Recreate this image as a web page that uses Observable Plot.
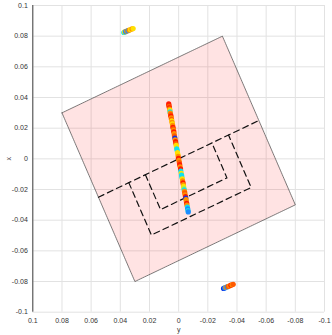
<!DOCTYPE html>
<html><head><meta charset="utf-8">
<script src="https://cdn.jsdelivr.net/npm/d3@7"></script>
<script src="https://cdn.jsdelivr.net/npm/@observablehq/plot@0.6"></script>
<style>body{margin:0;background:#fff}</style>
</head><body><div id="chart"></div>
<script>
// Axis ticks
const tickValues = [-0.1,-0.08,-0.06,-0.04,-0.02,0,0.02,0.04,0.06,0.08,0.1];

// Pink square region (h = "y" horizontal, v = "x" vertical)
const squareH = [0.08, -0.03, -0.08, 0.03, 0.08];
const squareV = [0.03, 0.08, -0.03, -0.08, 0.03];

// Long dashed line (midpoints of two square edges)
const midLineH = [0.055, -0.055];
const midLineV = [-0.025, 0.025];

// Outer U bracket
const outerUH = [0.0342, 0.0187, -0.0497, -0.0342];
const outerUV = [-0.0155, -0.0497, -0.0187, 0.0155];

// Inner U bracket
const innerUH = [0.0228, 0.0124, -0.0331, -0.0228];
const innerUV = [-0.0104, -0.0331, -0.0124, 0.0104];

// Main line of scatter points
const lineV = [0.0358,0.0350,0.0342,0.0333,0.0324,0.0316,0.0306,0.0298,0.0288,0.0278,0.0268,0.0258,0.0248,0.0238,0.0228,0.0218,0.0206,0.0196,0.0186,0.0176,0.0164,0.0150,0.0136,0.0124,0.0112,0.0100,0.0088,0.0078,0.0066,0.0054,0.0040,0.0028,0.0016,0.0004,-0.0010,-0.0024,-0.0038,-0.0052,-0.0066,-0.0080,-0.0094,-0.0106,-0.0118,-0.0130,-0.0144,-0.0156,-0.0168,-0.0180,-0.0192,-0.0202,-0.0212,-0.0222,-0.0234,-0.0246,-0.0256,-0.0266,-0.0278,-0.0290,-0.0302,-0.0314,-0.0326,-0.0338,-0.0346];
const lineH = [0.0068,0.0067,0.0066,0.0063,0.0062,0.0060,0.0059,0.0057,0.0055,0.0053,0.0051,0.0049,0.0047,0.0045,0.0043,0.0041,0.0039,0.0037,0.0035,0.0033,0.0031,0.0029,0.0026,0.0024,0.0021,0.0019,0.0017,0.0015,0.0013,0.0010,0.0008,0.0005,0.0003,0.0001,-0.0002,-0.0005,-0.0007,-0.0010,-0.0013,-0.0015,-0.0018,-0.0020,-0.0022,-0.0025,-0.0027,-0.0030,-0.0032,-0.0034,-0.0036,-0.0038,-0.0040,-0.0042,-0.0044,-0.0047,-0.0049,-0.0051,-0.0053,-0.0055,-0.0057,-0.0060,-0.0062,-0.0064,-0.0066];
const lineC = ["red","red","dorange","red","orange","yellow","cyan","orange","dorange","red","orange","dorange","yellow","orange","yellow","orange","red","dorange","orange","red","orange","dorange","blue","orange","red","dorange","yellow","yellow","cyan","cyan","yellow","yellow","orange","red","orange","dorange","red","orange","red","cyan","yellow","cyan","cyan","yellow","orange","red","orange","yellow","lime","cyan","orange","dorange","orange","red","blue","orange","orange","red","orange","cyan","lblue","cyan","lblue"];

// Top cluster
const topH = [0.0376,0.0370,0.0364,0.0356,0.0348,0.0340,0.0330,0.0320,0.0312];
const topV = [0.0824,0.0828,0.0829,0.0833,0.0836,0.0839,0.0843,0.0847,0.0850];
const topC = ["cyan","yellow","lblue","orange","lblue","orange","yellow","orange","yellow"];

// Bottom cluster
const botH = [-0.0308,-0.0316,-0.0324,-0.0332,-0.0340,-0.0350,-0.0358,-0.0366,-0.0374];
const botV = [-0.0845,-0.0842,-0.0838,-0.0835,-0.0832,-0.0828,-0.0824,-0.0821,-0.0818];
const botC = ["blue","lblue","orange","lblue","dorange","orange","red","orange","dorange"];

const palette = {blue:"#1030e0", lblue:"#1a8cff", cyan:"#10e0f0", lime:"#b0f040", yellow:"#ffe000", orange:"#ff9000", dorange:"#ff5a00", red:"#ff1a00"};

const zip = (H, V, C) => H.map((h, i) => ({h, v: V[i], c: C ? palette[C[i]] : null}));
const square = zip(squareH, squareV);
const midLine = zip(midLineH, midLineV);
const outerU = zip(outerUH, outerUV);
const innerU = zip(innerUH, innerUV);
const pts = [...zip(lineH, lineV, lineC), ...zip(topH, topV, topC), ...zip(botH, botV, botC)];

const fmt = d => d === 0 ? "0" : String(+d.toFixed(2));

const chart = Plot.plot({
  width: 332, height: 335,
  marginLeft: 32.3, marginRight: 8, marginTop: 5, marginBottom: 23.3,
  style: {fontSize: "7px", fontFamily: "Liberation Sans, Arial, sans-serif", color: "#333", background: "#fff"},
  x: {domain: [0.1, -0.1]},
  y: {domain: [-0.1, 0.1]},
  marks: [
    Plot.gridX(tickValues, {stroke: "#e2e2e2", strokeOpacity: 1}),
    Plot.gridY(tickValues, {stroke: "#e2e2e2", strokeOpacity: 1}),
    Plot.line(square, {x: "h", y: "v", fill: "#ff0000", fillOpacity: 0.11, stroke: "#444", strokeWidth: 0.7, strokeDasharray: "1.5,0.8", curve: "linear"}),
    Plot.line(midLine, {x: "h", y: "v", stroke: "#111", strokeWidth: 1.2, strokeDasharray: "6,4"}),
    Plot.line(outerU, {x: "h", y: "v", stroke: "#111", strokeWidth: 1.2, strokeDasharray: "6,4"}),
    Plot.line(innerU, {x: "h", y: "v", stroke: "#111", strokeWidth: 1.2, strokeDasharray: "6,4"}),
    Plot.dot(pts, {x: "h", y: "v", fill: "c", r: 2.6}),
    Plot.ruleX([0.1], {stroke: "#444", strokeWidth: 1}),
    Plot.axisX(tickValues, {anchor: "bottom", tickSize: 0, tickPadding: 6, tickFormat: fmt, label: "y", labelAnchor: "center", labelArrow: "none", labelOffset: 20}),
    Plot.axisY(tickValues, {anchor: "left", tickSize: 0, tickPadding: 5, tickFormat: fmt, label: "x", labelAnchor: "center", labelArrow: "none", labelOffset: 27})
  ]
});
document.getElementById("chart").appendChild(chart);
</script></body></html>
